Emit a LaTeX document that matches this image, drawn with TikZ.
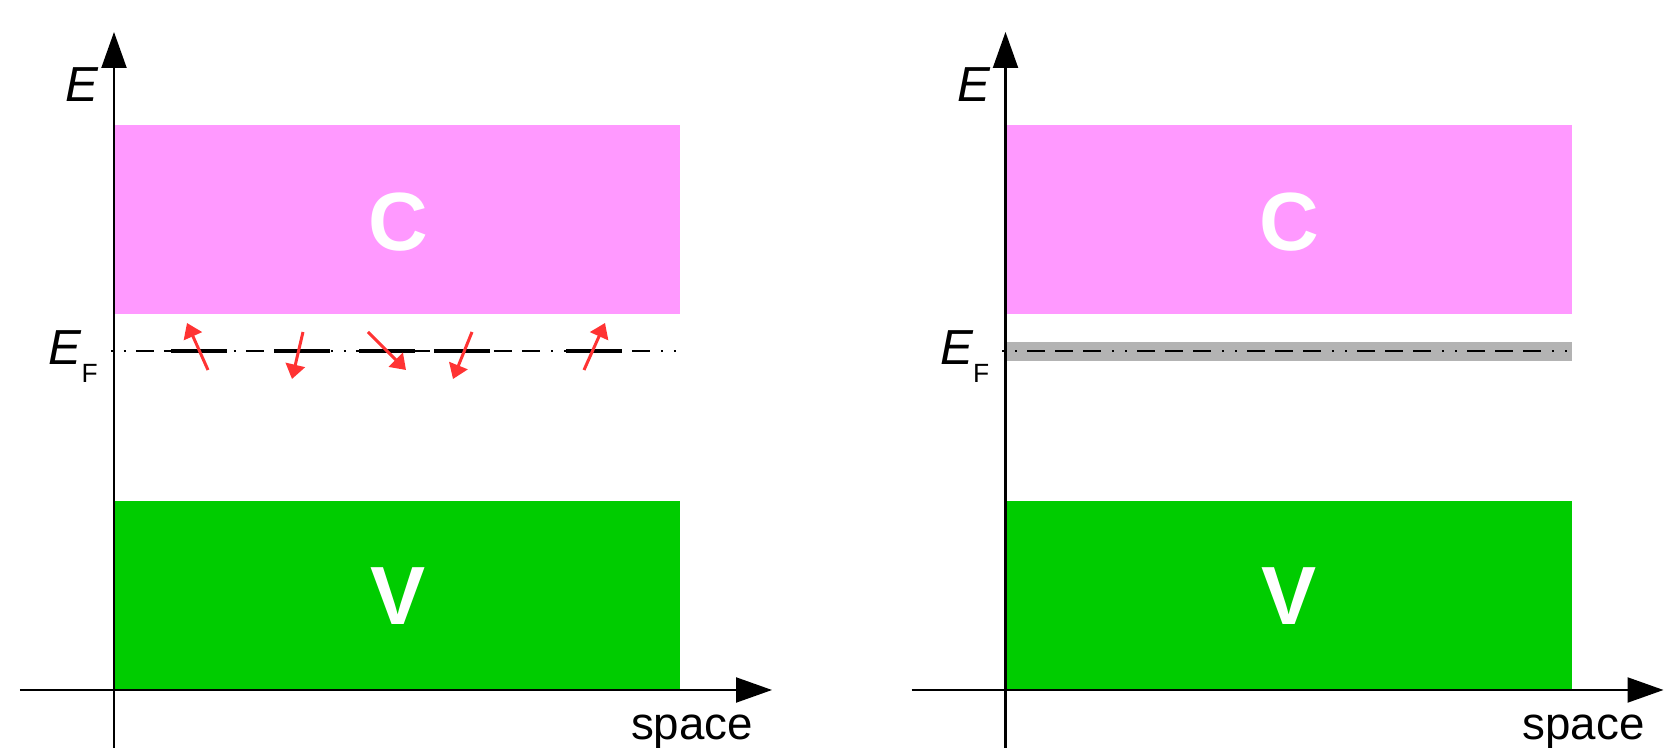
\documentclass[tikz,border=0pt]{standalone}
\usepackage{fontspec}
\setmainfont{Liberation Sans}
\usetikzlibrary{arrows.meta}
\definecolor{cband}{HTML}{FF99FF}
\definecolor{vband}{HTML}{00CC00}
\definecolor{spinred}{HTML}{FF3333}
\definecolor{defectband}{HTML}{B3B3B3}

\tikzset{
    axis/.style={line width=1.2pt, -{Triangle[length=0.72cm, width=0.5cm]}},
    fermi/.style={line width=0.6pt, dash pattern=on 10.24pt off 5.69pt on 10.24pt off 5.69pt on 10.24pt off 6.26pt on 1.14pt off 6.26pt on 1.14pt off 5.69pt, dash phase=44.4pt},
    level/.style={line width=2pt},
    spin/.style={spinred, line width=1.7pt, -{Triangle[length=0.29cm, width=0.39cm]}},
    bandlab/.style={text=white, font=\fontsize{47}{47}\selectfont\bfseries, inner sep=0pt},
    axlab/.style={font=\fontsize{28}{28}\selectfont, inner sep=0pt},
}

\begin{document}
\begin{tikzpicture}

\useasboundingbox (0,0) rectangle (33.28,14.96);

% ---------- Left: localized spins ----------

% Bands
\fill[cband] (2.28, 8.68) rectangle (13.60, 12.46);
\node[bandlab] (cL) at (7.96, 10.52) {C};
\fill[vband] (2.28, 1.16) rectangle (13.60, 4.94);
\node[bandlab] (vL) at (7.96, 3.03) {V};

% Fermi level
\coordinate (fL0) at (2.08, 7.94);
\coordinate (fL1) at (13.54, 7.94);
\draw[fermi] (fL0) -- (fL1);

% Impurity levels
\foreach \x in {3.42, 5.48, 7.18, 8.68, 11.32} {
    \draw[level] (\x, 7.94) -- ++(1.12, 0);
}

% Spins
\foreach \xa/\ya/\xb/\yb in {4.16/7.56/3.74/8.50, 6.06/8.32/5.84/7.38, 7.36/8.32/8.12/7.56, 9.44/8.32/9.06/7.38, 11.68/7.56/12.10/8.50} {
    \draw[spin] (\xa, \ya) -- (\xb, \yb);
}

% Axes
\coordinate (yL0) at (2.28, 0);
\coordinate (yL1) at (2.28, 14.32);
\coordinate (xL0) at (0.40, 1.16);
\coordinate (xL1) at (15.44, 1.16);
\draw[axis] (yL0) -- (yL1);
\draw[axis] (xL0) -- (xL1);

% Labels
\node[axlab, font=\fontsize{28}{28}\selectfont\itshape, anchor=base] (eL) at (1.64, 12.92) {E};
\node[axlab, anchor=base west] (efL) at (0.97, 7.67) {\itshape E\upshape\raisebox{-0.368cm}{\fontsize{15}{15}\selectfont F}};
\node[axlab, font=\fontsize{26}{26}\selectfont, anchor=base] (sL) at (13.84, 0.16) {space};

% ---------- Right: impurity band ----------

% Bands
\fill[cband] (20.11, 8.68) rectangle (31.43, 12.46);
\node[bandlab] (cR) at (25.79, 10.52) {C};
\fill[vband] (20.11, 1.16) rectangle (31.43, 4.94);
\node[bandlab] (vR) at (25.79, 3.03) {V};

% Impurity band
\fill[defectband] (20.11, 7.74) rectangle (31.43, 8.12);

% Fermi level
\coordinate (fR0) at (19.91, 7.94);
\coordinate (fR1) at (31.37, 7.94);
\draw[fermi] (fR0) -- (fR1);

% Axes
\coordinate (yR0) at (20.11, 0);
\coordinate (yR1) at (20.11, 14.32);
\coordinate (xR0) at (18.23, 1.16);
\coordinate (xR1) at (33.27, 1.16);
\draw[axis] (yR0) -- (yR1);
\draw[axis] (xR0) -- (xR1);

% Labels
\node[axlab, font=\fontsize{28}{28}\selectfont\itshape, anchor=base] (eR) at (19.47, 12.92) {E};
\node[axlab, anchor=base west] (efR) at (18.80, 7.67) {\itshape E\upshape\raisebox{-0.368cm}{\fontsize{15}{15}\selectfont F}};
\node[axlab, font=\fontsize{26}{26}\selectfont, anchor=base] (sR) at (31.67, 0.16) {space};

\end{tikzpicture}
\end{document}
